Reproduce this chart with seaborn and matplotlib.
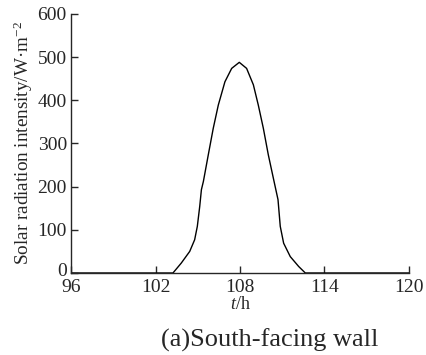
import numpy as np
import pandas as pd
import matplotlib
matplotlib.use("Agg")
import matplotlib.pyplot as plt
import matplotlib.transforms as mtransforms
import seaborn as sns

# (hour, W/m2)
hours = [96, 103.24, 103.83, 104.43, 104.78, 104.97, 105.14, 105.26, 105.4, 105.75,
         106.1, 106.46, 106.93, 107.41, 107.95, 108.47, 108.95, 109.3, 109.66, 110.01,
         110.42, 110.7, 110.86, 111.1, 111.57, 112.17, 112.64, 120]
radiation = [0, 0, 23, 50, 77, 108, 154, 193, 212, 274,
             335, 389, 443, 474, 488, 474, 436, 389, 335, 274,
             212, 170, 108, 69, 38, 15, 0, 0]
x_ticks = [96, 102, 108, 114, 120]
y_ticks = [0, 100, 200, 300, 400, 500, 600]

sns.set_style("ticks")
plt.rcParams['font.family'] = ['Liberation Serif', 'DejaVu Serif']
plt.rcParams['mathtext.fontset'] = 'custom'
plt.rcParams['mathtext.rm'] = 'Liberation Serif'
plt.rcParams['mathtext.it'] = 'Liberation Serif:italic'

df = pd.DataFrame({"t": hours, "q": radiation})

fig = plt.figure(figsize=(4.26, 3.55), dpi=100)
ax = fig.add_axes([0.1667, 0.231, 0.7933, 0.7296])
sns.lineplot(data=df, x="t", y="q", color="black", linewidth=1.0, ax=ax)

ax.set_xlim(96, 120)
ax.set_ylim(0, 600)
ax.set_xticks(x_ticks)
ax.set_yticks(y_ticks)
ax.tick_params(direction="in", length=5, width=1, labelsize=14)
ax.tick_params(axis="x", pad=4)
ax.tick_params(axis="y", pad=3)
for s in ["top", "right"]:
    ax.spines[s].set_visible(False)
for s in ["left", "bottom"]:
    ax.spines[s].set_linewidth(1)

# nudge the "0" label up a little so it clears "96"
zero_lbl = ax.get_yticklabels()[0]
zero_lbl.set_transform(zero_lbl.get_transform() +
                       mtransforms.ScaledTranslation(0, 3 / 100, fig.dpi_scale_trans))

ax.set_xlabel("$t$/h", fontsize=13, labelpad=0)
ax.set_ylabel("Solar radiation intensity/W·m$^{-2}$", fontsize=13.8, labelpad=2)
fig.text(0.634, 0.024, "(a)South-facing wall", fontsize=19, ha="center")

plt.savefig("out.png", dpi=100)
